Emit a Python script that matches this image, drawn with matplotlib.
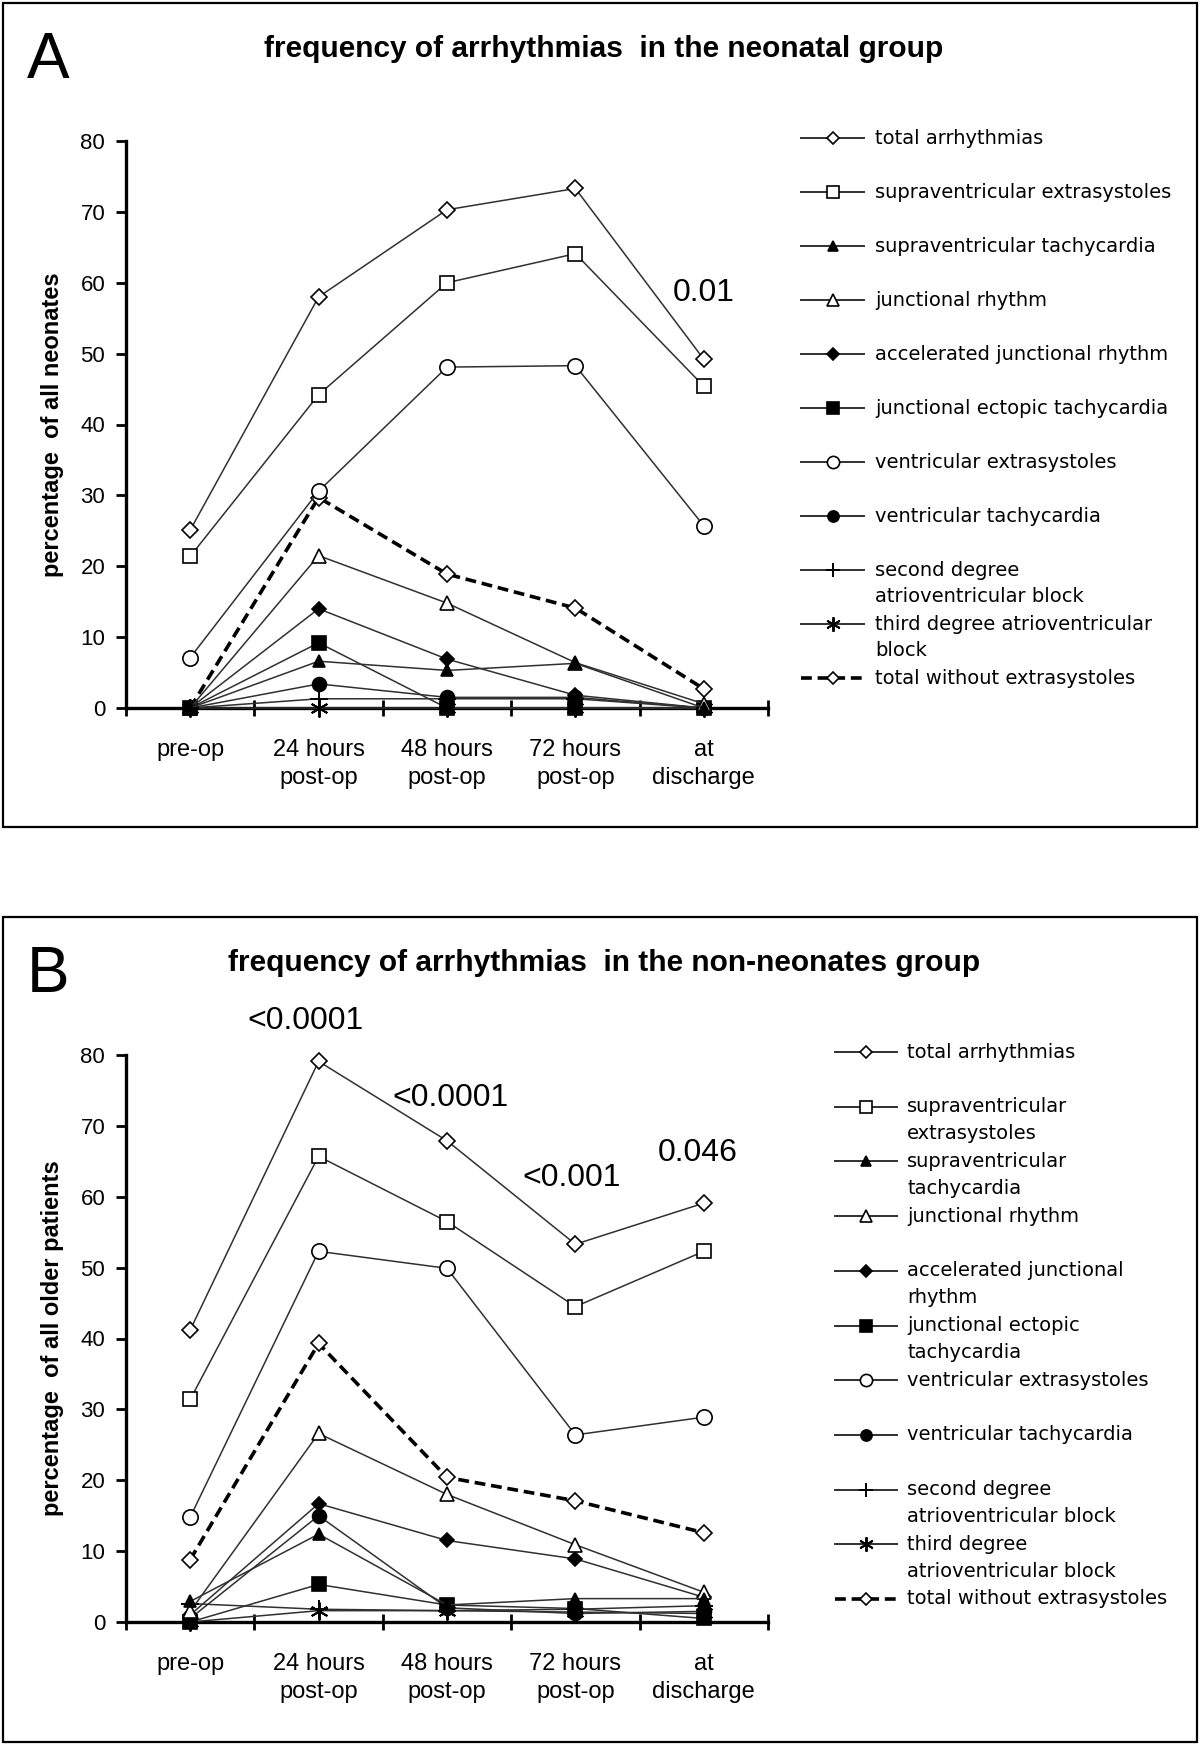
import matplotlib
matplotlib.use('Agg')
import matplotlib.pyplot as plt
from matplotlib import font_manager
from matplotlib.patches import Rectangle

# fonts
names = {f.name for f in font_manager.fontManager.ttflist}
narrow = 'Liberation Sans Narrow' if 'Liberation Sans Narrow' in names else 'Liberation Sans'

times = ['pre-op', '24 hours\npost-op', '48 hours\npost-op', '72 hours\npost-op', 'at\ndischarge']

# panel A - neonates
A_total = [25.1, 58.0, 70.3, 73.3, 49.2]
A_sve = [21.4, 44.2, 60.0, 64.1, 45.4]
A_svt = [0, 6.6, 5.3, 6.3, 0]
A_jr = [0, 21.5, 14.8, 6.4, 0.6]
A_ajr = [0, 14.0, 6.9, 1.8, 0]
A_jet = [0, 9.2, 0, 0, 0]
A_ve = [7.1, 30.6, 48.1, 48.3, 25.7]
A_vt = [0, 3.4, 1.5, 1.5, 0]
A_av2 = [0, 1.3, 1.3, 1.3, 0]
A_av3 = [0, 0, 0, 0, 0]
A_wo = [0, 29.7, 18.9, 14.1, 2.7]

# panel B - non-neonates
B_total = [41.2, 79.1, 67.9, 53.3, 59.1]
B_sve = [31.4, 65.7, 56.5, 44.5, 52.3]
B_svt = [2.9, 12.4, 2.4, 3.3, 3.3]
B_jr = [1.5, 26.6, 18.0, 10.9, 4.2]
B_ajr = [1.0, 16.7, 11.5, 8.9, 3.5]
B_jet = [0, 5.3, 2.4, 1.9, 0.5]
B_ve = [14.8, 52.3, 49.9, 26.4, 28.9]
B_vt = [0.5, 15.0, 2.0, 1.2, 1.5]
B_av2 = [2.6, 1.8, 1.6, 1.8, 2.3]
B_av3 = [0, 1.6, 1.6, 1.4, 1.2]
B_wo = [8.8, 39.3, 20.4, 17.1, 12.6]

# p-values (label, x position, y position)
A_pvals = [('0.01', 4.0, 58.5)]
B_pvals = [('<0.0001', 0.9, 84.8), ('<0.0001', 2.03, 73.9),
           ('<0.001', 2.97, 62.6), ('0.046', 3.95, 66.2)]

A_labels = ['total arrhythmias', 'supraventricular extrasystoles', 'supraventricular tachycardia',
            'junctional rhythm', 'accelerated junctional rhythm', 'junctional ectopic tachycardia',
            'ventricular extrasystoles', 'ventricular tachycardia',
            'second degree\natrioventricular block', 'third degree atrioventricular\nblock',
            'total without extrasystoles']
B_labels = ['total arrhythmias', 'supraventricular\nextrasystoles', 'supraventricular\ntachycardia',
            'junctional rhythm', 'accelerated junctional\nrhythm', 'junctional ectopic\ntachycardia',
            'ventricular extrasystoles', 'ventricular tachycardia',
            'second degree\natrioventricular block', 'third degree\natrioventricular block',
            'total without extrasystoles']

# marker styles in series order: marker, size, filled, dashed
styles = [('D', 8, False, False), ('s', 10, False, False), ('^', 9, True, False),
          ('^', 10, False, False), ('D', 7.5, True, False), ('s', 10, True, False),
          ('o', 11, False, False), ('o', 10, True, False), ('+', 13, True, False),
          ((6, 2, 0), 13, True, False), ('D', 8, False, True)]

W, H = 1200, 1746
fig = plt.figure(figsize=(W / 100, H / 100), dpi=100)

# pixel overlay for frames, letters, titles, legends
ov = fig.add_axes([0, 0, 1, 1])
ov.set_xlim(0, W)
ov.set_ylim(H, 0)
ov.axis('off')


def style_kw(st):
    mk, ms, filled, dashed = st
    kw = dict(marker=mk, markersize=ms, markeredgecolor='black', markeredgewidth=1.2,
              markerfacecolor='black' if filled else 'white', color='#303030')
    if dashed:
        kw.update(linestyle=(0, (3, 1.6)), linewidth=2.6, color='black')
    else:
        kw.update(linestyle='-', linewidth=1.1)
    if mk in ('+',) or isinstance(mk, tuple):
        kw['markeredgewidth'] = 1.4
    return kw


def panel(box, letter, title, title_y, ax_rect, series, ylabel, pvals, labels, leg):
    x0, y0, x1, y1 = box
    ov.add_patch(Rectangle((x0, y0), x1 - x0, y1 - y0, fill=False, edgecolor='black', linewidth=1.6))
    ov.text(x0 + 45, y0 + 58, letter, fontsize=46, family=narrow, ha='center', va='center')
    ov.text(604, title_y, title, fontsize=21.5, family=narrow, fontweight='bold', ha='center', va='center')

    ax = fig.add_axes(ax_rect)
    xs = list(range(len(times)))
    order = [10, 9, 8, 7, 5, 4, 2, 3, 6, 1, 0]
    for i in order:
        ax.plot(xs, series[i], zorder=3 + (10 - i) * 0.1, clip_on=False, **style_kw(styles[i]))
    ax.set_xlim(-0.5, len(times) - 0.5)
    ax.set_ylim(0, 80)
    ax.set_yticks(range(0, 81, 10))
    ax.set_xticks([x - 0.5 for x in range(len(times) + 1)])
    ax.set_xticklabels([])
    ax.set_xticks(xs, minor=True)
    ax.set_xticklabels(times, minor=True, fontsize=17, family=narrow, linespacing=1.35)
    ax.tick_params(axis='x', which='minor', length=0, pad=22)
    ax.tick_params(axis='x', which='major', direction='inout', length=12, width=2)
    ax.tick_params(axis='y', direction='out', length=7, width=2, pad=8,
                   labelsize=16, labelfontfamily=narrow)
    for s in ('top', 'right'):
        ax.spines[s].set_visible(False)
    for s in ('left', 'bottom'):
        ax.spines[s].set_linewidth(2.4)
    ax.patch.set_visible(False)
    ax.set_ylabel(ylabel, fontsize=17, fontweight='bold', family='Liberation Sans', labelpad=12)
    for txt, px, py in pvals:
        ax.text(px, py, txt, fontsize=23, family='Liberation Sans', ha='center', va='center')

    # legend drawn by hand so that wrapped entries keep a fixed slot height
    hx0, hx1, tx, ry, step, gap = leg
    for i, lab in enumerate(labels):
        y = ry + i * step
        kw = style_kw(styles[i])
        kw['markersize'] = kw['markersize'] * 0.8
        if kw['linestyle'] == '-':
            kw['linewidth'] = 1.4
        ov.plot([hx0, (hx0 + hx1) / 2, hx1], [y, y, y], markevery=[1], **kw)
        for k, line in enumerate(lab.split('\n')):
            ov.text(tx, y + k * gap, line, fontsize=14, family='DejaVu Sans', ha='left', va='center')


series_A = [A_total, A_sve, A_svt, A_jr, A_ajr, A_jet, A_ve, A_vt, A_av2, A_av3, A_wo]
series_B = [B_total, B_sve, B_svt, B_jr, B_ajr, B_jet, B_ve, B_vt, B_av2, B_av3, B_wo]

panel((3, 3, 1197, 827), 'A', 'frequency of arrhythmias  in the neonatal group', 49,
      [126 / W, 1 - 708 / H, 642 / W, 567 / H], series_A, 'percentage  of all neonates',
      A_pvals, A_labels, (801, 864, 875, 138, 54, 27))
panel((3, 917, 1197, 1742), 'B', 'frequency of arrhythmias  in the non-neonates group', 963,
      [126 / W, 1 - 1622 / H, 642 / W, 567 / H], series_B, 'percentage  of all older patients',
      B_pvals, B_labels, (835, 897, 907, 1052, 54.7, 27))

fig.savefig('out.png', dpi=100)
